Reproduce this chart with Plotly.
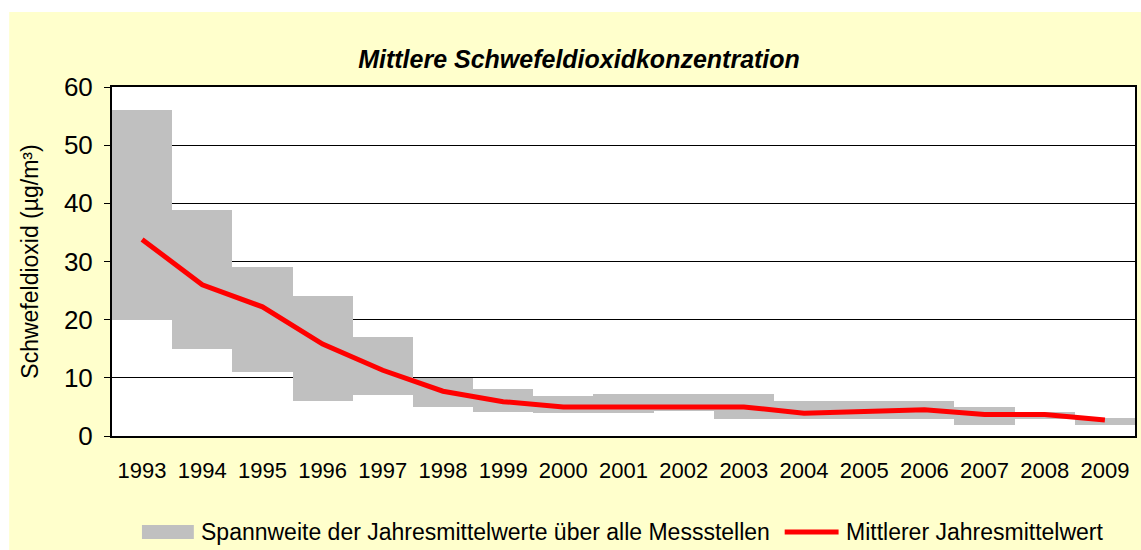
import plotly.graph_objects as go

# ---- data ----
years = ["1993", "1994", "1995", "1996", "1997", "1998", "1999", "2000", "2001",
         "2002", "2003", "2004", "2005", "2006", "2007", "2008", "2009"]
range_min = [20, 15, 11, 6, 7, 5, 4.2, 3.9, 3.9, 4.3, 2.9, 2.9, 2.9, 2.9, 1.9, 2.9, 1.9]
range_max = [56, 38.8, 29.1, 24.1, 17, 10, 8, 6.9, 7.2, 7.2, 7.2, 6.0, 6.0, 6.0, 5.0, 4.1, 3.1]
mean_values = [33.8, 26.0, 22.2, 15.8, 11.3, 7.7, 5.9, 5.0, 5.0, 5.0, 5.0, 3.9, 4.2, 4.5, 3.7, 3.7, 2.75]

title_text = "Mittlere Schwefeldioxidkonzentration"
y_title = "Schwefeldioxid (µg/m³)"
legend_range = "Spannweite der Jahresmittelwerte über alle Messstellen"
legend_mean = "Mittlerer Jahresmittelwert"

FONT = "Liberation Sans, Arial, sans-serif"
GRAY = "#C0C0C0"
RED = "#FF0000"
YELLOW = "#FFFFCC"

# plot-area geometry (pixels) used for paper coordinates
L, R, T, B = 112, 4, 87, 114
W, H = 1141, 550
PW, PH = W - L - R, H - T - B


def px(xp):
    return (xp - L) / PW


def py(yp):
    return (H - B - yp) / PH


fig = go.Figure()

fig.add_trace(go.Bar(
    x=years,
    y=[mx - mn for mn, mx in zip(range_min, range_max)],
    base=range_min,
    marker=dict(color=GRAY, line=dict(width=0)),
    name=legend_range,
    showlegend=False,
    hoverinfo="skip",
))

fig.add_trace(go.Scatter(
    x=years,
    y=mean_values,
    mode="lines",
    line=dict(color=RED, width=5),
    name=legend_mean,
    showlegend=False,
))

shapes = [
    # light-yellow chart area
    dict(type="rect", xref="paper", yref="paper", layer="below",
         x0=px(9), x1=px(1150), y0=py(560), y1=py(12),
         fillcolor=YELLOW, line=dict(width=0)),
    # white plot area
    dict(type="rect", xref="paper", yref="paper", layer="below",
         x0=0, x1=1, y0=0, y1=1,
         fillcolor="white", line=dict(width=0)),
    # legend swatches
    dict(type="rect", xref="paper", yref="paper",
         x0=px(142), x1=px(194), y0=py(539), y1=py(525),
         fillcolor=GRAY, line=dict(width=0)),
    dict(type="line", xref="paper", yref="paper",
         x0=px(786), x1=px(840), y0=py(532), y1=py(532),
         line=dict(color=RED, width=5)),
]

annotations = [
    dict(text=legend_range, xref="paper", yref="paper", x=px(199), y=py(531.5),
         xanchor="left", yanchor="middle", showarrow=False,
         font=dict(family=FONT, size=23, color="black")),
    dict(text=legend_mean, xref="paper", yref="paper", x=px(845), y=py(531.5),
         xanchor="left", yanchor="middle", showarrow=False,
         font=dict(family=FONT, size=23, color="black")),
]

fig.update_layout(
    width=W, height=H,
    margin=dict(l=L, r=R, t=T, b=B),
    paper_bgcolor="white",
    plot_bgcolor="white",
    bargap=0,
    showlegend=False,
    title=dict(text="<b><i>" + title_text + "</i></b>", xref="container", yref="container",
               x=579 / W, y=1 - 59 / H, xanchor="center", yanchor="middle",
               font=dict(family=FONT, size=25, color="black")),
    shapes=shapes,
    annotations=annotations,
    font=dict(family=FONT, color="black"),
)

fig.update_xaxes(
    type="category",
    showline=True, linecolor="black", linewidth=2, mirror=True,
    ticks="", showgrid=False,
    tickfont=dict(family=FONT, size=22, color="black"),
    ticklabelstandoff=14,
)

fig.update_yaxes(
    range=[0, 60], dtick=10, tick0=0,
    showline=True, linecolor="black", linewidth=2, mirror=True,
    ticks="outside", ticklen=6, tickcolor="black", tickwidth=1,
    showgrid=True, gridcolor="black", gridwidth=1,
    zeroline=False,
    tickfont=dict(family=FONT, size=26, color="black"),
    ticklabelstandoff=6,
    title=dict(text=y_title, font=dict(family=FONT, size=23, color="black"), standoff=19),
)

fig.write_html("out.html",
               config={"displayModeBar": False},
               post_script="document.body.style.margin='0';document.body.style.overflow='hidden';")
